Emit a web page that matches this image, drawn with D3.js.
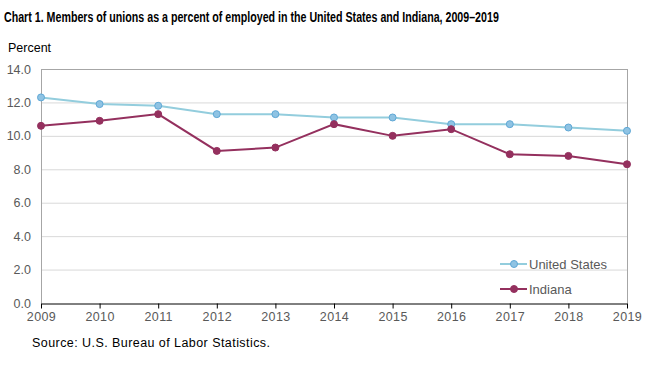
<!DOCTYPE html>
<html><head><meta charset="utf-8">
<script src="https://cdn.jsdelivr.net/npm/d3@7"></script>
<style>body{margin:0;background:#fff;} text{font-family:"Liberation Sans",Arial,sans-serif;}</style>
</head><body><svg id="c" width="650" height="370"></svg>
<script>
const years = [2009,2010,2011,2012,2013,2014,2015,2016,2017,2018,2019];
const unitedStates = [12.3,11.9,11.8,11.3,11.3,11.1,11.1,10.7,10.7,10.5,10.3];
const indiana = [10.6,10.9,11.3,9.1,9.3,10.7,10.0,10.4,8.9,8.8,8.3];
const yTicks = [0,2,4,6,8,10,12,14];
const seriesNames = ["United States","Indiana"];

const svg = d3.select("#c");
const L=41, R=627, T=69, B=303;
const x = d3.scaleLinear().domain([2009,2019]).range([L,R]);
const y = d3.scaleLinear().domain([0,14]).range([B,T]);

const title = svg.append("text").attr("x",0).attr("y",0).attr("font-weight","bold").attr("font-size",14.5)
  .attr("fill","#000").text("Chart 1. Members of unions as a percent of employed in the United  States and Indiana, 2009–2019");
const tw = title.node().getComputedTextLength();
title.attr("transform",`translate(4,22) scale(${495/tw},1)`);
svg.append("text").attr("x",8).attr("y",52).attr("font-size",12.5).attr("fill","#000").text("Percent");

// gridlines
svg.append("g").selectAll("line").data(yTicks.filter(d=>d>0&&d<14)).join("line")
  .attr("x1",L).attr("x2",R).attr("y1",d=>y(d)+0.5).attr("y2",d=>y(d)+0.5)
  .attr("stroke","#d9d9d9").attr("stroke-width",1);
// frame
svg.append("line").attr("x1",L).attr("x2",R).attr("y1",T+0.5).attr("y2",T+0.5).attr("stroke","#a6a6a6");
svg.append("line").attr("x1",L+0.5).attr("x2",L+0.5).attr("y1",T).attr("y2",B).attr("stroke","#a6a6a6");
svg.append("line").attr("x1",R+0.5).attr("x2",R+0.5).attr("y1",T).attr("y2",B).attr("stroke","#a6a6a6");

// y labels
const yAxis = d3.axisLeft(y).tickValues(yTicks).tickFormat(d3.format(".1f")).tickSize(0).tickPadding(10);
const gy = svg.append("g").attr("transform",`translate(${L},0)`).call(yAxis);
gy.select(".domain").remove();
gy.selectAll("text").attr("font-size",12.5).attr("fill","#595959").style("font-family","Liberation Sans, Arial, sans-serif");

// x axis
const xAxis = d3.axisBottom(x).tickValues(years).tickFormat(d3.format("d")).tickSize(5).tickSizeOuter(0).tickPadding(4);
const gx = svg.append("g").attr("transform",`translate(0,${B+0.5})`).call(xAxis);
gx.select(".domain").attr("stroke","#000");
gx.selectAll(".tick line").attr("stroke","#000");
gx.selectAll("text").attr("font-size",12.5).attr("fill","#595959").attr("letter-spacing","0.4px").style("font-family","Liberation Sans, Arial, sans-serif");

const series = [
  {name:seriesNames[0], vals:unitedStates, line:"#93cddd", fill:"#8fc3e3", stroke:"#5fa8d6"},
  {name:seriesNames[1], vals:indiana, line:"#94305e", fill:"#94305e", stroke:"#94305e"}
];
const lineGen = d3.line().x((d,i)=>x(years[i])).y(d=>y(d));
series.forEach(s=>{
  svg.append("path").datum(s.vals).attr("d",lineGen).attr("fill","none")
    .attr("stroke",s.line).attr("stroke-width",2);
  svg.append("g").selectAll("circle").data(s.vals).join("circle")
    .attr("cx",(d,i)=>x(years[i])).attr("cy",d=>y(d)).attr("r",3.5)
    .attr("fill",s.fill).attr("stroke",s.stroke).attr("stroke-width",1);
});

// legend
const legY = [264,289];
series.forEach((s,i)=>{
  const g = svg.append("g");
  g.append("line").attr("x1",500).attr("x2",527).attr("y1",legY[i]).attr("y2",legY[i]).attr("stroke",s.line).attr("stroke-width",2);
  g.append("circle").attr("cx",514).attr("cy",legY[i]).attr("r",3.5).attr("fill",s.fill).attr("stroke",s.stroke);
  g.append("text").attr("x",529).attr("y",legY[i]+4.5).attr("font-size",13).attr("fill","#595959").text(s.name);
});

svg.append("text").attr("x",32).attr("y",347).attr("font-size",12.5).attr("fill","#000")
  .attr("textLength",238).attr("lengthAdjust","spacing").text("Source:  U.S. Bureau  of Labor  Statistics.");
</script></body></html>
